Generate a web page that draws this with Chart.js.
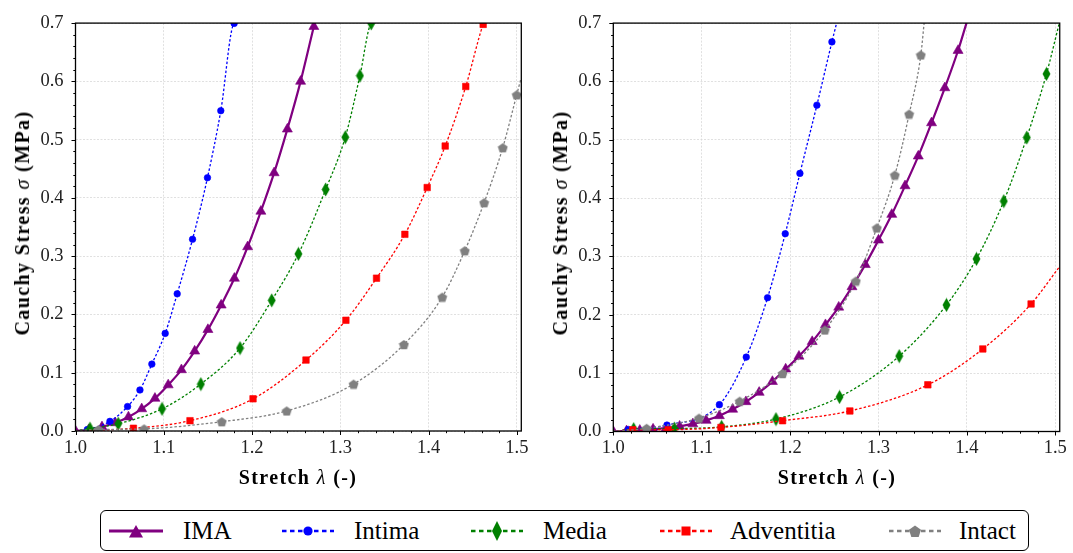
<!DOCTYPE html>
<html>
<head>
<meta charset="utf-8">
<script src="https://cdn.jsdelivr.net/npm/chart.js@4.4.1/dist/chart.umd.min.js"></script>
<style>
  html, body { margin: 0; padding: 0; background: #fff; }
  #fig { position: relative; width: 1073px; height: 553px; overflow: hidden; font-family: "Liberation Serif", "DejaVu Serif", serif; color: #000; }
  #fig canvas { position: absolute; top: 0; }
  .ytitle, .xtitle { position: absolute; font-weight: bold; font-size: 20px; letter-spacing: 1.4px; white-space: nowrap; line-height: 1; }
  .ytitle { transform: translate(-50%, -50%) rotate(-90deg); }
  .xtitle { transform: translate(-50%, -50%); }
  .ytitle i, .xtitle i { font-weight: normal; }
  #legend { position: absolute; left: 100px; top: 510px; width: 927px; height: 39px; border: 1.6px solid #000; border-radius: 6px; }
  #legend .icon { position: absolute; top: 8px; }
  #legend .label { position: absolute; top: 5px; font-size: 25px; line-height: 30px; white-space: nowrap; }
</style>
</head>
<body>
<div id="fig">
  <canvas id="left" width="540" height="470" style="left:0px"></canvas>
  <canvas id="right" width="533" height="470" style="left:540px"></canvas>
  <div class="ytitle" style="left:22px; top:223px">Cauchy Stress <i>σ</i> (MPa)</div>
  <div class="xtitle" style="left:298px; top:477px">Stretch <i>λ</i> (-)</div>
  <div class="ytitle" style="left:560px; top:223px">Cauchy Stress <i>σ</i> (MPa)</div>
  <div class="xtitle" style="left:837px; top:477px">Stretch <i>λ</i> (-)</div>
  <div id="legend"></div>
</div>
<script>
// Axis ticks
const stretchTicks = [1.0, 1.1, 1.2, 1.3, 1.4, 1.5];
const stressTicks = [0.0, 0.1, 0.2, 0.3, 0.4, 0.5, 0.6, 0.7];

// Series names and colours
const seriesNames = ['IMA', 'Intima', 'Media', 'Adventitia', 'Intact'];
const seriesColors = ['#800080', '#0000ff', '#008000', '#ff0000', '#808080'];

// Left panel: measured points [stretch, stress in MPa]
const leftIMA = [[1.0, 0], [1.015, 0.002], [1.03, 0.007], [1.045, 0.014], [1.06, 0.024], [1.075, 0.038], [1.09, 0.056], [1.105, 0.079], [1.12, 0.105], [1.135, 0.137], [1.15, 0.174], [1.165, 0.216], [1.18, 0.262], [1.195, 0.316], [1.21, 0.377], [1.225, 0.443], [1.24, 0.518], [1.255, 0.600], [1.27, 0.694]];
const leftIntima = [[1.0134, 0.0025], [1.039, 0.0165], [1.059, 0.042], [1.073, 0.0704], [1.0865, 0.1148], [1.1016, 0.1675], [1.1152, 0.2354], [1.1326, 0.329], [1.1495, 0.4347], [1.1646, 0.5497], [1.1797, 0.6995]];
const leftMedia = [[1.0164, 0.004], [1.0484, 0.0125], [1.098, 0.038], [1.142, 0.0805], [1.1864, 0.1423], [1.2223, 0.2242], [1.2525, 0.3039], [1.2834, 0.4145], [1.3056, 0.5042], [1.3222, 0.6097], [1.335, 0.6995]];
const leftAdventitia = [[1.0656, 0.0047], [1.1297, 0.0177], [1.2011, 0.0552], [1.2611, 0.1217], [1.3063, 0.19], [1.341, 0.2623], [1.3731, 0.3375], [1.3984, 0.4178], [1.4188, 0.489], [1.4421, 0.5912], [1.4618, 0.6978]];
const leftIntact = [[1.026, 0.0025], [1.0777, 0.0037], [1.1657, 0.016], [1.2393, 0.0345], [1.315, 0.0805], [1.372, 0.1485], [1.4154, 0.2298], [1.441, 0.3094], [1.4629, 0.3919], [1.484, 0.4862], [1.4998, 0.577]];
// Left panel: where each fitted curve leaves the axes
const leftCurveEnds = [[1.271, 0.70], [1.181, 0.70], [1.336, 0.70], [1.4625, 0.70], [1.5045, 0.604]];

// Right panel: measured points [stretch, stress in MPa]
const rightIMA = [[1.0, 0], [1.015, 0.001], [1.03, 0.002], [1.045, 0.004], [1.06, 0.006], [1.075, 0.009], [1.09, 0.013], [1.105, 0.019], [1.12, 0.027], [1.135, 0.038], [1.15, 0.051], [1.165, 0.067], [1.18, 0.0856], [1.195, 0.107], [1.21, 0.129], [1.225, 0.154], [1.24, 0.183], [1.255, 0.213], [1.27, 0.248], [1.285, 0.286], [1.30, 0.328], [1.315, 0.372], [1.33, 0.421], [1.345, 0.472], [1.36, 0.529], [1.375, 0.589], [1.39, 0.653]];
const rightIntima = [[1.017, 0.0034], [1.0607, 0.011], [1.12, 0.046], [1.1504, 0.1275], [1.1745, 0.2293], [1.1945, 0.339], [1.2111, 0.4424], [1.2303, 0.5593], [1.2473, 0.6678]];
const rightMedia = [[1.023, 0.004], [1.069, 0.005], [1.1225, 0.008], [1.184, 0.0213], [1.2559, 0.0592], [1.3234, 0.1292], [1.3769, 0.2169], [1.4108, 0.2958], [1.4417, 0.3948], [1.4677, 0.5039], [1.49, 0.6129]];
const rightAdventitia = [[1.022, 0.003], [1.062, 0.003], [1.1218, 0.007], [1.1915, 0.0185], [1.2676, 0.0352], [1.3558, 0.08], [1.418, 0.1415], [1.4726, 0.2186]];
const rightIntact = [[1.0377, 0.0055], [1.097, 0.023], [1.143, 0.052], [1.1915, 0.0995], [1.2393, 0.174], [1.2744, 0.2579], [1.2981, 0.349], [1.3185, 0.4396], [1.3347, 0.5441], [1.3479, 0.6455]];
// Right panel: where each fitted curve leaves the axes
const rightCurveEnds = [[1.3995, 0.70], [1.2526, 0.70], [1.5045, 0.70], [1.5045, 0.282], [1.3516, 0.70]];

const STRETCH_MIN = 1.0, STRETCH_MAX = 1.505, STRESS_MIN = 0, STRESS_MAX = 0.7;
const TICK_FONT = { family: '"Liberation Serif", "DejaVu Serif", serif', size: 18.5 };

// ---- marker sprites ----
function sprite(w, h, draw) {
  const c = document.createElement('canvas');
  c.width = w; c.height = h;
  const g = c.getContext('2d');
  draw(g, w, h);
  return c;
}
function polygon(g, pts, color) {
  g.beginPath();
  pts.forEach((p, i) => i ? g.lineTo(p[0], p[1]) : g.moveTo(p[0], p[1]));
  g.closePath();
  g.fillStyle = color; g.fill();
}
const diamondSprite = sprite(9, 15, (g, w, h) => polygon(g, [[w / 2, 0.5], [w - 0.5, h / 2], [w / 2, h - 0.5], [0.5, h / 2]], seriesColors[2]));
const pentagonSprite = sprite(11, 11, (g, w, h) => {
  const pts = [];
  for (let k = 0; k < 5; k++) {
    const a = -Math.PI / 2 + k * 2 * Math.PI / 5;
    pts.push([w / 2 + 5.2 * Math.cos(a), h / 2 + 0.6 + 5.2 * Math.sin(a)]);
  }
  polygon(g, pts, seriesColors[4]);
});

const markerStyles = [
  { pointStyle: 'triangle', radius: 5.8 },
  { pointStyle: 'circle', radius: 3.3 },
  { pointStyle: diamondSprite, radius: 6 },
  { pointStyle: 'rect', radius: 4.6 },
  { pointStyle: pentagonSprite, radius: 6 }
];
const lineStyles = [
  { width: 2.2, dash: [] },
  { width: 1.3, dash: [2.5, 2] },
  { width: 1.3, dash: [2.5, 2] },
  { width: 1.3, dash: [2.5, 2] },
  { width: 1.3, dash: [2.5, 2] }
];

const toXY = pts => pts.map(p => ({ x: p[0], y: p[1] }));

function buildDatasets(markerSets, ends) {
  const ds = [];
  markerSets.forEach((pts, i) => {
    const curve = pts[0][0] > STRETCH_MIN ? [[STRETCH_MIN, 0], ...pts] : [...pts];
    const end = ends[i];
    if (end[0] > curve[curve.length - 1][0]) curve.push(end);
    ds.push({
      label: seriesNames[i] + ' fit',
      data: toXY(curve),
      showLine: true,
      borderColor: seriesColors[i],
      borderWidth: lineStyles[i].width,
      borderDash: lineStyles[i].dash,
      cubicInterpolationMode: 'monotone',
      pointRadius: 0,
      pointHoverRadius: 0,
      fill: false,
      order: (5 - i) * 2 + 1
    });
    ds.push({
      label: seriesNames[i],
      data: toXY(pts),
      showLine: false,
      pointStyle: markerStyles[i].pointStyle,
      pointRadius: markerStyles[i].radius,
      pointBackgroundColor: seriesColors[i],
      pointBorderColor: seriesColors[i],
      pointBorderWidth: 0.6,
      order: (5 - i) * 2
    });
  });
  return ds;
}

// frame, major and minor ticks (drawn outward)
const framePlugin = {
  id: 'frame',
  afterDraw(chart) {
    const { ctx, chartArea: a, scales } = chart;
    const x = scales.x, y = scales.y;
    ctx.save();
    ctx.strokeStyle = '#000';
    ctx.lineWidth = 1;
    ctx.beginPath();
    for (let v = STRETCH_MIN; v <= STRETCH_MAX + 1e-9; v += 0.02) {
      const major = Math.abs(v * 10 - Math.round(v * 10)) < 1e-6;
      const px = Math.round(x.getPixelForValue(v)) + 0.5;
      ctx.moveTo(px, a.bottom);
      ctx.lineTo(px, a.bottom + (major ? 4 : 2.2));
    }
    for (let v = STRESS_MIN; v <= STRESS_MAX + 1e-9; v += 0.02) {
      const major = Math.abs(v * 10 - Math.round(v * 10)) < 1e-6;
      const py = Math.round(y.getPixelForValue(v)) + 0.5;
      ctx.moveTo(a.left, py);
      ctx.lineTo(a.left - (major ? 4 : 2.2), py);
    }
    ctx.stroke();
    ctx.lineWidth = 1.3;
    ctx.strokeRect(a.left, a.top, a.right - a.left, a.bottom - a.top);
    ctx.restore();
  }
};

function makePanel(id, markerSets, ends, area, canvasW, canvasH) {
  return new Chart(document.getElementById(id), {
    type: 'scatter',
    data: { datasets: buildDatasets(markerSets, ends) },
    options: {
      responsive: false,
      animation: false,
      devicePixelRatio: 1,
      layout: { padding: { left: 0, top: area.top, right: canvasW - area.right, bottom: 0 } },
      plugins: { legend: { display: false }, tooltip: { enabled: false } },
      scales: {
        x: {
          type: 'linear', min: STRETCH_MIN, max: STRETCH_MAX,
          afterBuildTicks: s => { s.ticks = stretchTicks.map(v => ({ value: v })); },
          afterFit: s => { s.height = canvasH - area.bottom; },
          grid: { color: '#d8d8d8', lineWidth: 0.8, drawTicks: false },
          border: { display: false, dash: [2, 1.5] },
          ticks: { font: TICK_FONT, color: '#222', padding: 6, maxRotation: 0, callback: v => v.toFixed(1) }
        },
        y: {
          type: 'linear', min: STRESS_MIN, max: STRESS_MAX,
          afterBuildTicks: s => { s.ticks = stressTicks.map(v => ({ value: v })); },
          afterFit: s => { s.width = area.left; },
          grid: { color: '#d8d8d8', lineWidth: 0.8, drawTicks: false },
          border: { display: false, dash: [2, 1.5] },
          ticks: { font: TICK_FONT, color: '#222', padding: 12, callback: v => v.toFixed(1) }
        }
      }
    },
    plugins: [framePlugin]
  });
}

makePanel('left', [leftIMA, leftIntima, leftMedia, leftAdventitia, leftIntact], leftCurveEnds,
  { left: 75.5, right: 521.3, top: 15, bottom: 431 }, 540, 470);
makePanel('right', [rightIMA, rightIntima, rightMedia, rightAdventitia, rightIntact], rightCurveEnds,
  { left: 73.3, right: 520, top: 15, bottom: 431.5 }, 533, 470);

// ---- legend ----
const legendIconX = [8, 180, 369, 558, 787];
const legendTextX = [82, 253, 442, 629, 858];
function legendIcon(i) {
  const c = seriesColors[i];
  const dash = i === 0 ? '' : 'stroke-dasharray="4.5 3.5"';
  const sw = i === 0 ? 3 : 2.6;
  let mark = '';
  if (i === 0) mark = `<polygon points="27,6 34,18.5 20,18.5" fill="${c}"/>`;
  if (i === 1) mark = `<circle cx="27" cy="12" r="4.6" fill="${c}"/>`;
  if (i === 2) mark = `<polygon points="27,2 32,12 27,22 22,12" fill="${c}"/>`;
  if (i === 3) mark = `<rect x="22.5" y="7.5" width="9" height="9" fill="${c}"/>`;
  if (i === 4) {
    const pts = [];
    for (let k = 0; k < 5; k++) {
      const a = -Math.PI / 2 + k * 2 * Math.PI / 5;
      pts.push((27 + 6.3 * Math.cos(a)).toFixed(2) + ',' + (12.8 + 6.3 * Math.sin(a)).toFixed(2));
    }
    mark = `<polygon points="${pts.join(' ')}" fill="${c}"/>`;
  }
  const x0 = i === 0 ? 0 : 1;
  return `<svg width="54" height="24" viewBox="0 0 54 24"><line x1="${x0}" y1="12" x2="${54 - x0}" y2="12" stroke="${c}" stroke-width="${sw}" ${dash}/>${mark}</svg>`;
}
const legend = document.getElementById('legend');
seriesNames.forEach((name, i) => {
  const ic = document.createElement('div');
  ic.className = 'icon';
  ic.style.left = legendIconX[i] + 'px';
  ic.innerHTML = legendIcon(i);
  legend.appendChild(ic);
  const t = document.createElement('div');
  t.className = 'label';
  t.style.left = legendTextX[i] + 'px';
  t.textContent = name;
  legend.appendChild(t);
});
</script>
</body>
</html>
